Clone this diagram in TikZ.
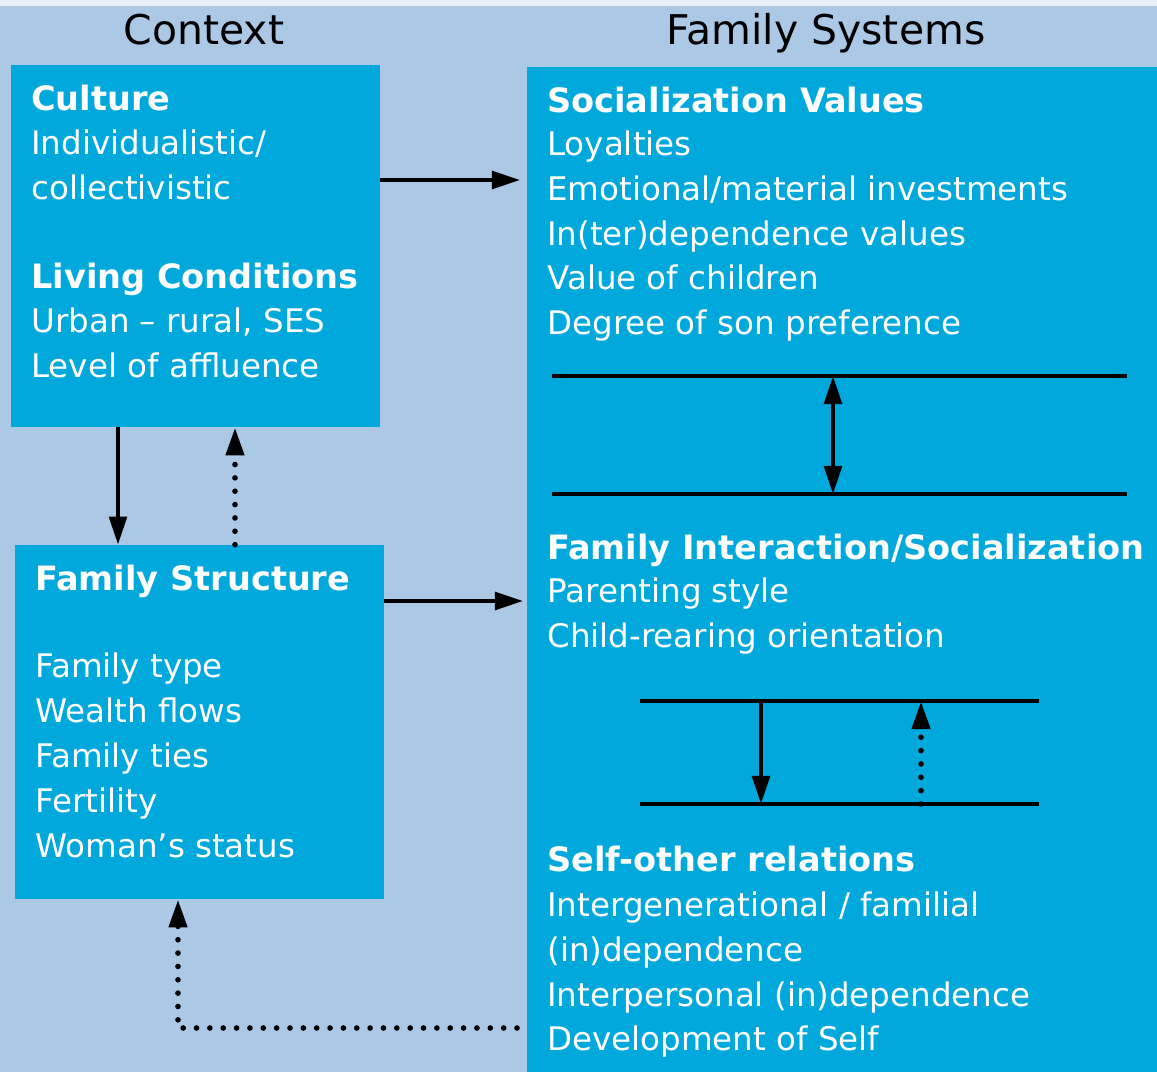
\documentclass[tikz,border=0pt]{standalone}
\usepackage{fontspec}
\setmainfont{DejaVu Sans}
\usetikzlibrary{arrows.meta,fit}

\definecolor{pageblue}{HTML}{ABC8E4}
\definecolor{boxblue}{HTML}{00A8DC}
\definecolor{topstrip}{HTML}{E8EEF7}

\tikzset{
  panel/.style={fill=boxblue,inner sep=0pt},
  item/.style={text=white,anchor=base west,inner sep=0pt,font=\fontsize{18.5}{25.4}\selectfont},
  head/.style={item,font=\fontsize{19.1}{25.4}\selectfont\bfseries},
  title/.style={anchor=base,inner sep=0pt,font=\fontsize{23.3}{28}\selectfont},
  tip/.style={-{Triangle[length=16pt,width=10pt]}},
  link/.style={line width=2.3pt,tip},
  mutual/.style={line width=2.3pt,{Triangle[length=16pt,width=10pt]}-{Triangle[length=16pt,width=10pt]}},
  backlink/.style={line width=3.2pt,line cap=round,dash pattern=on 0pt off 7.6pt,tip},
  bar/.style={line width=2pt}
}

\begin{document}
\begin{tikzpicture}[x=0.02cm,y=-0.02cm]
\useasboundingbox (0,0) rectangle (1157,1072);
\fill[pageblue] (0,0) rectangle (1157,1072);
\fill[topstrip] (0,0) rectangle (1157,6);
% Panels
\node[panel,fit={(11,65) (380,427)}] (context) {};
\node[panel,fit={(15,545) (384,899)}] (structure) {};
\node[panel,fit={(527,67) (1157,1072)}] (systems) {};
% Column titles
\node[title] (contexttitle) at (204,44) {Context};
\node[title] (systemstitle) at (826,44) {Family Systems};
% Context: culture and living conditions
\node[head] (culture) at (31,110) {Culture};
\foreach \t [count=\i] in {Individualistic/, collectivistic}
  \node[item] (culture\i) at (31,110+44.7*\i) {\t};
\node[head] (living) at (31,288) {Living Conditions};
\foreach \t [count=\i] in {{Urban – rural, SES}, {Level of affluence}}
  \node[item] (living\i) at (31,288+44.7*\i) {\t};
% Family structure
\node[head] (famstruct) at (35,590) {Family Structure};
\foreach \t [count=\i from 0] in {Family type, Wealth flows, Family ties, Fertility, Woman’s status}
  \node[item] (fs\i) at (35,677+45*\i) {\t};
% Family systems
\node[head] (values) at (547,112) {Socialization Values};
\foreach \t [count=\i] in {Loyalties, {Emotional/material investments}, {In(ter)dependence values}, {Value of children}, {Degree of son preference}}
  \node[item] (values\i) at (547,111+44.7*\i) {\t};
\node[head] (interaction) at (547,559) {Family Interaction/Socialization};
\foreach \t [count=\i] in {Parenting style, Child-rearing orientation}
  \node[item] (interaction\i) at (547,558+44.7*\i) {\t};
\node[head] (selfother) at (547,871) {Self-other relations};
\foreach \t [count=\i] in {{Intergenerational / familial}, {(in)dependence}, {Interpersonal (in)dependence}, {Development of Self}}
  \node[item] (selfother\i) at (547,872+44.7*\i) {\t};
% Bars between levels
\coordinate (upperA) at (552,376); \coordinate (upperB) at (1127,376);
\coordinate (lowerA) at (552,494); \coordinate (lowerB) at (1127,494);
\draw[bar] (upperA) -- (upperB);
\draw[bar] (lowerA) -- (lowerB);
\coordinate (both) at (833,0);
\draw[mutual] (upperA -| both) -- (lowerA -| both);
\coordinate (innerA) at (640,701); \coordinate (innerB) at (1039,701);
\coordinate (baseA) at (640,804); \coordinate (baseB) at (1039,804);
\draw[bar] (innerA) -- (innerB);
\draw[bar] (baseA) -- (baseB);
\coordinate (downx) at (761,0); \coordinate (upx) at (921,0);
\draw[link] (innerA -| downx) -- (baseA -| downx);
\draw[backlink] (baseA -| upx) -- (innerA -| upx);
% Links from context to family systems
\coordinate (valuesin) at (520,180);
\draw[link] (context.east |- valuesin) -- (valuesin);
\coordinate (interactin) at (523,601);
\draw[link] (structure.east |- interactin) -- (interactin);
\coordinate (leftdown) at (118,0); \coordinate (leftup) at (235,0);
\draw[link] (context.south -| leftdown) -- (structure.north -| leftdown);
\draw[backlink] (structure.north -| leftup) -- (context.south -| leftup);
% Feedback to structure
\coordinate (fbstart) at (517,1028); \coordinate (fbcorner) at (178,1028);
\draw[backlink] (fbstart) -- (fbcorner) -- (structure.south -| fbcorner);
\end{tikzpicture}
\end{document}
